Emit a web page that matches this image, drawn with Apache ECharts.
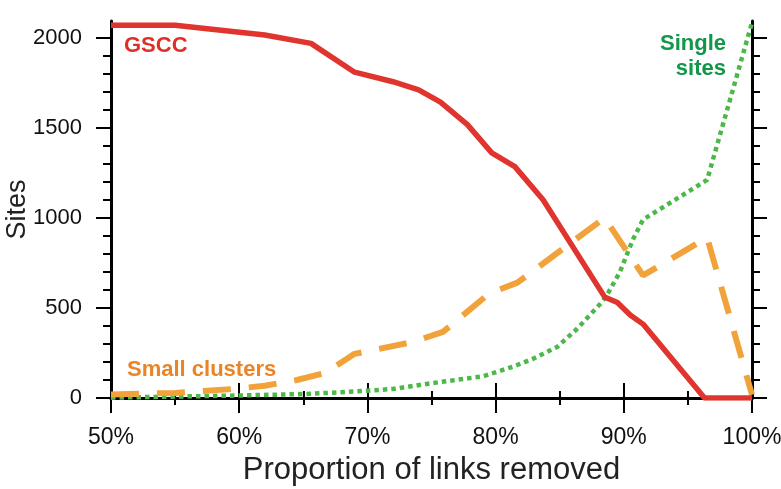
<!DOCTYPE html>
<html>
<head>
<meta charset="utf-8">
<script src="https://cdn.jsdelivr.net/npm/echarts@6/dist/echarts.min.js"></script>
<style>
  html, body { margin: 0; padding: 0; background: #fff; }
  #main { width: 781px; height: 489px; }
</style>
</head>
<body>
<div id="main"></div>
<script>
// proportion of links removed (%) and site counts
const gsccX = [50, 55, 62, 65.6, 69, 72, 74, 75.7, 77.8, 79.7, 81.5, 83.7, 88.5, 89.5, 90.5, 91.5, 96.3, 100];
const gsccY = [2068, 2068, 2014, 1968, 1808, 1755, 1710, 1642, 1517, 1360, 1284, 1100, 561, 530, 461, 410, 0, 0];

const smallX = [50, 55, 59.5, 62, 64.5, 66.7, 69, 73.5, 75.9, 79.5, 81.7, 88.5, 91.5, 96.5, 100];
const smallY = [20, 28, 50, 68, 100, 139, 245, 310, 367, 580, 640, 1000, 680, 890, 18];

const singleX = [50, 55, 60, 65, 68, 72, 75.1, 79, 81.4, 83, 84.8, 86.3, 88.1, 88.6, 89.7, 90.7, 91.5, 96.5, 100];
const singleY = [2, 8, 14, 22, 32, 50, 83, 120, 175, 220, 283, 380, 517, 560, 700, 878, 990, 1210, 2083];

const yMajor = [0, 500, 1000, 1500, 2000];
const yMinor = [100, 200, 300, 400, 600, 700, 800, 900, 1100, 1200, 1300, 1400, 1600, 1700, 1800, 1900];

const pairs = (xs, ys) => xs.map((x, i) => [x, ys[i]]);

const font = 'Liberation Sans, Arial, sans-serif';
const black = '#000';

const chart = echarts.init(document.getElementById('main'), null, { renderer: 'canvas' });

function xAx(pos, labels) {
    return {
        type: 'value', position: pos, min: 50, max: 100, interval: 10,
        axisLine: { show: true, lineStyle: { color: black, width: 3 } },
        axisTick: { show: true, inside: false, length: 15, lineStyle: { color: black, width: 2 } },
        minorTick: { show: true, splitNumber: 2, length: 7, lineStyle: { color: black, width: 2 } },
        axisLabel: { show: labels, formatter: '{value}%', fontSize: 23, color: '#111', fontFamily: font, margin: 28 },
        splitLine: { show: false },
        minorSplitLine: { show: false },
        name: labels ? 'Proportion of links removed' : '',
        nameLocation: 'middle', nameGap: 57, nameMoveOverlap: false,
        nameTextStyle: { fontSize: 31, color: '#222', fontFamily: font }
    };
}

function yAx(pos, major, labels) {
    return {
        type: 'value', position: pos, min: 0, max: 2092,
        axisLine: { show: major, lineStyle: { color: black, width: 3 } },
        axisTick: { show: true, inside: false, length: major ? 15 : 8,
            customValues: major ? yMajor : yMinor, lineStyle: { color: black, width: 2 } },
        axisLabel: { show: labels, customValues: yMajor, formatter: v => String(v),
            fontSize: 22, color: '#111', fontFamily: font, margin: 29 },
        splitLine: { show: false },
        name: labels ? 'Sites' : '',
        nameLocation: 'middle', nameGap: 80, nameMoveOverlap: false,
        nameTextStyle: { fontSize: 27, color: '#222', fontFamily: font }
    };
}

chart.setOption({
    animation: false,
    backgroundColor: '#fff',
    grid: { left: 111, right: 29, top: 21, bottom: 91, containLabel: false, outerBoundsMode: 'none' },
    xAxis: [xAx('bottom', true), xAx('top', false)],
    yAxis: [yAx('left', true, true), yAx('left', false, false), yAx('right', true, false), yAx('right', false, false)],
    series: [
        {
            name: 'GSCC', type: 'line', data: pairs(gsccX, gsccY), showSymbol: false, z: 3,
            lineStyle: { color: '#e0352e', width: 5.5, join: 'round' }
        },
        {
            name: 'Small clusters', type: 'line', data: pairs(smallX, smallY), showSymbol: false, z: 2,
            lineStyle: { color: '#f2a23a', width: 6, type: [28, 18], cap: 'butt' }
        },
        {
            name: 'Single sites', type: 'line', data: pairs(singleX, singleY), showSymbol: false, z: 1,
            lineStyle: { color: '#4db84a', width: 4.5, type: [4.5, 4], cap: 'butt' }
        }
    ],
    graphic: [
        { type: 'text', left: 124, top: 35, style: { text: 'GSCC', fill: '#de3029', font: 'bold 22px ' + font } },
        { type: 'text', right: 55, top: 33, style: { text: 'Single', fill: '#12964a', font: 'bold 22px ' + font } },
        { type: 'text', right: 55, top: 58, style: { text: 'sites', fill: '#12964a', font: 'bold 22px ' + font } },
        { type: 'text', left: 127, top: 359, style: { text: 'Small clusters', fill: '#ec8425', font: 'bold 22px ' + font } }
    ]
});
</script>
</body>
</html>
